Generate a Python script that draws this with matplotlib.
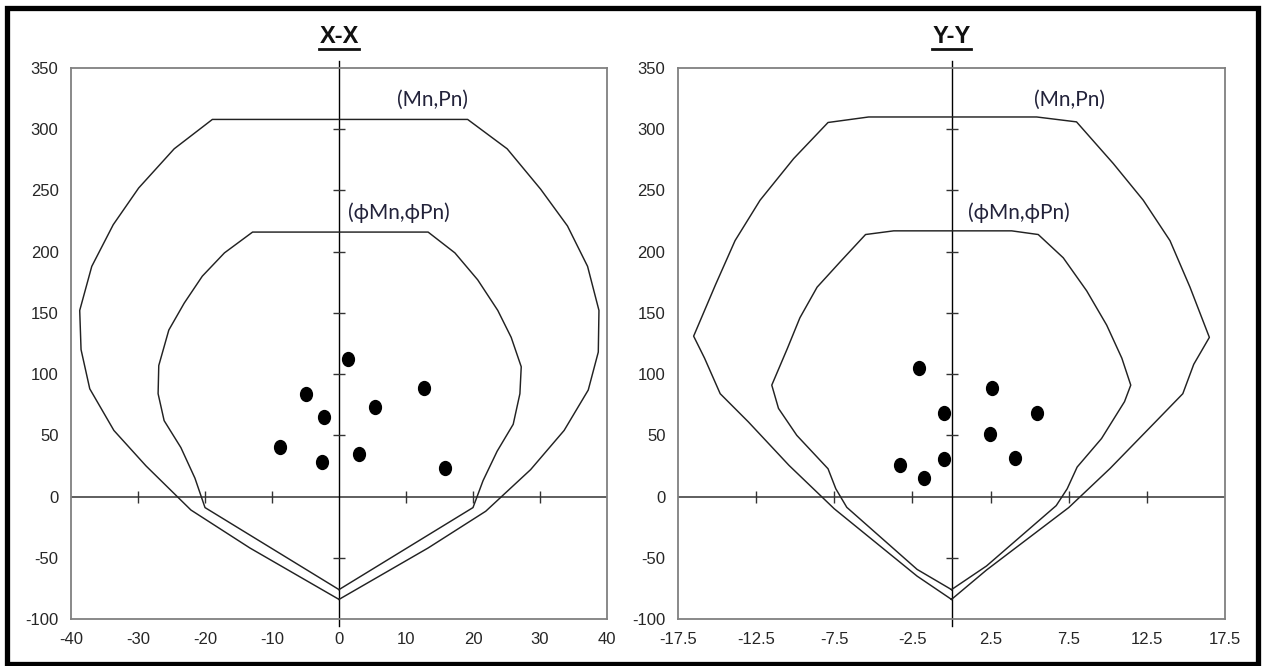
import matplotlib
matplotlib.use('Agg')
import matplotlib.pyplot as plt
import numpy as np
from matplotlib.lines import Line2D
from matplotlib.patches import Rectangle
from matplotlib.path import Path
from matplotlib.transforms import Affine2D

plt.rcParams['font.family'] = ['Liberation Sans', 'DejaVu Sans']
plt.rcParams['axes.unicode_minus'] = False

# ---- X-X interaction diagram (moment, axial load) ----
xx_outer_m = [0, -13.3, -22.1, -28.8, -33.6, -37.2, -38.5, -38.7, -36.9, -33.7, -29.9, -24.6, -18.9,
              19.2, 25.1, 30.1, 34.1, 37.1, 38.8, 38.7, 37.2, 33.6, 28.6, 21.9, 13.3, 0]
xx_outer_p = [-84, -42, -11, 25, 54, 88, 120, 152, 188, 222, 252, 284, 308,
              308, 284, 251, 221, 188, 152, 118, 87, 54, 22, -12, -42, -84]
xx_inner_m = [0, -20.0, -21.5, -23.6, -26.1, -27.0, -26.9, -25.4, -23.1, -20.4, -17.1, -12.9,
              13.3, 17.3, 20.7, 23.7, 25.7, 27.2, 27.0, 26.0, 23.6, 21.5, 20.0, 0]
xx_inner_p = [-76, -9, 15, 40, 62, 84, 107, 136, 158, 180, 199, 216,
              216, 199, 177, 152, 130, 106, 84, 59, 37, 13, -9, -76]
xx_load_m = [-8.8, -5.0, -2.5, -2.2, 1.4, 3.0, 5.3, 12.7, 15.8]
xx_load_p = [40.5, 84, 28, 65, 112, 34.5, 73, 89, 23]

# ---- Y-Y interaction diagram ----
yy_outer_m = [0, -2.2, -7.5, -10.4, -13.0, -14.8, -15.8, -16.5, -15.1, -13.85, -12.25, -10.1, -7.9, -5.3,
              5.45, 8.0, 10.35, 12.27, 13.98, 15.26, 16.5, 15.5, 14.8, 13.05, 10.15, 7.5, 2.24, 0]
yy_outer_p = [-84, -65, -10, 25.5, 61, 84, 113, 131, 173, 209, 242, 276, 305.5, 310,
              310, 306, 272, 242, 209, 171, 130, 108, 84, 61, 23, -9, -60, -84]
yy_inner_m = [0, -2.2, -6.7, -7.4, -7.9, -9.9, -11.07, -11.5, -10.5, -9.7, -8.6, -7.1, -5.5, -3.7,
              3.85, 5.55, 7.15, 8.65, 9.93, 10.9, 11.47, 11.07, 9.6, 8.04, 7.4, 6.7, 2.24, 0]
yy_inner_p = [-76, -59.5, -8.8, 6.3, 22.7, 50, 72, 91, 121, 146, 171, 192, 214, 217,
              217, 214, 195, 168, 140, 113, 91, 77.5, 47.4, 24.1, 6.3, -7.4, -56.7, -76]
yy_load_m = [-3.3, -2.1, -1.77, -0.5, -0.45, 2.45, 2.56, 4.09, 5.46]
yy_load_p = [25.5, 105, 15, 68, 30.4, 50.7, 89, 31.8, 68]

XX_XTICKS = [-40, -30, -20, -10, 0, 10, 20, 30, 40]
YY_XTICKS = [-17.5, -12.5, -7.5, -2.5, 2.5, 7.5, 12.5, 17.5]
P_TICKS = [-100, -50, 0, 50, 100, 150, 200, 250, 300, 350]

LABEL_COLOR = '#22223a'
CURVE_COLOR = '#222222'

dot = Path.unit_circle().transformed(Affine2D().scale(0.85, 1.0))


def draw_panel(ax, outer_m, outer_p, inner_m, inner_p, load_m, load_p,
               xticks, xlim, mn_pos, phi_pos):
    ax.set_xlim(*xlim)
    ax.set_ylim(-100, 350)

    for side in ax.spines.values():
        side.set_color('#808080')
        side.set_linewidth(1.3)

    ax.set_xticks(xticks)
    ax.set_xticklabels([f'{t:g}' for t in xticks])
    ax.set_yticks(P_TICKS)
    ax.tick_params(length=0, labelsize=12, colors='#262626', pad=9)

    # axis lines through origin
    ax.axhline(0, color='#333333', lw=1.1, zorder=2)
    ax.axvline(0, ymin=-0.012, ymax=1.012, color='black', lw=1.0, clip_on=False, zorder=2)

    # crossing tick marks on the axis lines
    inner_x = [t for t in xticks if abs(t) > 0 and abs(t) < xlim[1]]
    inner_y = [t for t in P_TICKS if t not in (-100, 0, 350)]
    ax.plot(inner_x, np.zeros(len(inner_x)), ls='none', marker='|', ms=9, mew=1.0,
            color='#333333', zorder=2)
    ax.plot(np.zeros(len(inner_y)), inner_y, ls='none', marker='_', ms=8.5, mew=1.0,
            color='#333333', zorder=2)

    ax.plot(outer_m, outer_p, color=CURVE_COLOR, lw=1.05, zorder=3)
    ax.plot(inner_m, inner_p, color=CURVE_COLOR, lw=1.05, zorder=3)
    ax.plot(load_m, load_p, ls='none', marker=dot, ms=10, color='black', zorder=4)

    ax.text(mn_pos[0], mn_pos[1], '(Mn,Pn)', ha='center', va='center', fontsize=15,
            color=LABEL_COLOR, family=['Lato', 'Noto Sans', 'DejaVu Sans'])
    ax.text(phi_pos[0], phi_pos[1], '(ϕMn,ϕPn)', ha='center', va='center', fontsize=15,
            color=LABEL_COLOR, family=['Lato', 'Noto Sans', 'DejaVu Sans'])


fig = plt.figure(figsize=(12.66, 6.66), dpi=100)

ax1 = fig.add_axes([71 / 1266, 47 / 666, 536 / 1266, 551 / 666])
ax2 = fig.add_axes([678 / 1266, 47 / 666, 547 / 1266, 551 / 666])

draw_panel(ax1, xx_outer_m, xx_outer_p, xx_inner_m, xx_inner_p, xx_load_m, xx_load_p,
           XX_XTICKS, (-40, 40), (13.9, 324), (8.9, 232))
draw_panel(ax2, yy_outer_m, yy_outer_p, yy_inner_m, yy_inner_p, yy_load_m, yy_load_p,
           YY_XTICKS, (-17.5, 17.5), (7.55, 324), (4.3, 232))

# underlined bold titles
titles = []
for ax, name in [(ax1, 'X-X'), (ax2, 'Y-Y')]:
    pos = ax.get_position()
    cx = (pos.x0 + pos.x1) / 2
    titles.append(fig.text(cx, 1 - 36.5 / 666, name, ha='center', va='center',
                           fontsize=17, fontweight='bold', color='#111111'))

fig.canvas.draw()
renderer = fig.canvas.get_renderer()
for t in titles:
    bb = t.get_window_extent(renderer).transformed(fig.transFigure.inverted())
    uy = 1 - 48.5 / 666
    fig.add_artist(Line2D([bb.x0, bb.x1], [uy, uy], transform=fig.transFigure,
                          color='#111111', lw=2.0))

# thick outer border
fig.add_artist(Rectangle((7 / 1266, 2 / 666), 1251 / 1266, 656 / 666, transform=fig.transFigure,
                         fill=False, ec='black', lw=3.8))

fig.savefig('out.png', dpi=100)
